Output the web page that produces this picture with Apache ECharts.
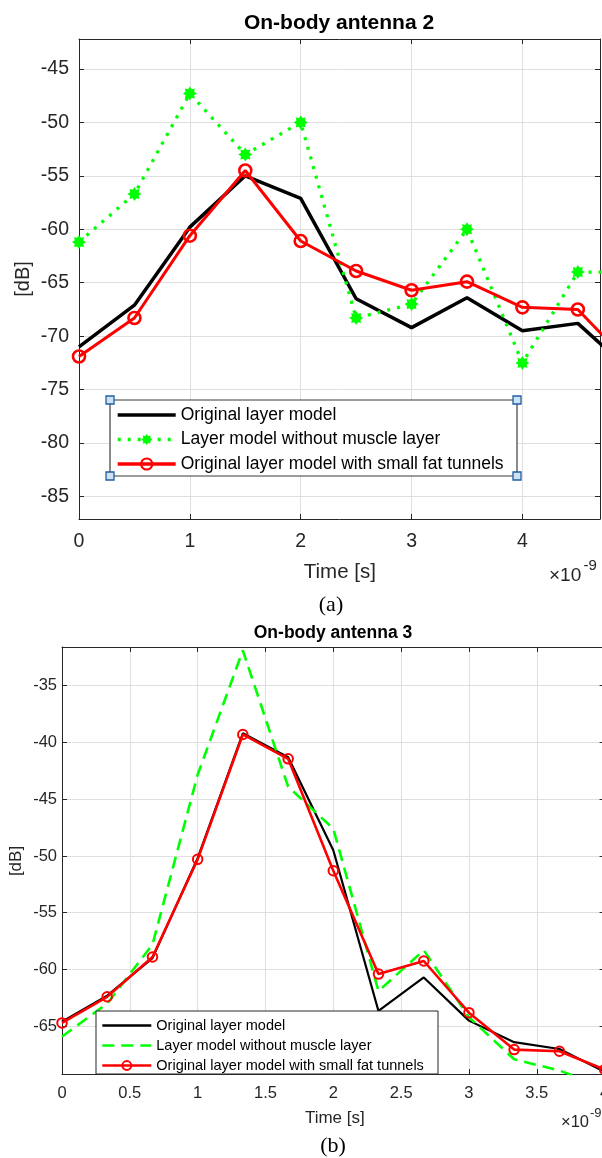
<!DOCTYPE html>
<html>
<head>
<meta charset="utf-8">
<script src="https://cdn.jsdelivr.net/npm/echarts@6/dist/echarts.min.js"></script>
<style>
html,body{margin:0;padding:0;overflow:hidden;background:#fff;}
#c{width:620px;height:1158px;}
</style>
</head>
<body>
<div id="c"></div>
<script>
// ---------- data (time in units of 1e-9 s, values in dB) ----------
const seriesNames = ['Original layer model', 'Layer model without muscle layer', 'Original layer model with small fat tunnels'];

// (a) On-body antenna 2
const timeA      = [0, 0.5, 1, 1.5, 2, 2.5, 3, 3.5, 4, 4.5, 5];
const origA      = [-71.0, -67.1, -59.8, -55.0, -57.1, -66.5, -69.2, -66.4, -69.5, -68.8, -73.5];
const noMuscleA  = [-61.2, -56.7, -47.3, -53.0, -50.0, -68.3, -67.0, -60.0, -72.5, -64.0, -64.0];
const tunnelsA   = [-71.9, -68.3, -60.6, -54.5, -61.1, -63.9, -65.7, -64.9, -67.3, -67.5, -72.9];
const xTicksA    = [0, 1, 2, 3, 4];
const yTicksA    = [-85, -80, -75, -70, -65, -60, -55, -50, -45];
const xRangeA    = [0, 4.7];
const yRangeA    = [-87.1, -42.2];

// (b) On-body antenna 3
const timeB      = [0, 0.333, 0.667, 1, 1.333, 1.667, 2, 2.333, 2.667, 3, 3.333, 3.667, 4];
const origB      = [-64.6, -62.3, -59.0, -50.2, -39.2, -41.3, -49.5, -63.65, -60.7, -64.5, -66.4, -67.0, -69.0];
const noMuscleB  = [-65.9, -63.0, -57.8, -42.85, -31.9, -43.9, -47.6, -61.9, -58.3, -64.2, -67.9, -68.9, -70.3];
const tunnelsB   = [-64.7, -62.4, -58.9, -50.3, -39.3, -41.45, -51.3, -60.4, -59.25, -63.8, -67.05, -67.2, -68.8];
const xTicksB    = [0, 0.5, 1, 1.5, 2, 2.5, 3, 3.5, 4];
const yTicksB    = [-65, -60, -55, -50, -45, -40, -35];
const xRangeB    = [0, 4];
const yRangeB    = [-69.2, -31.6];

// ---------- styling ----------
const FONT = '"Liberation Sans", Arial, Helvetica, sans-serif';
const AX = '#262626';
const GRIDC = '#dfdfdf';
const GREEN = '#00ff00', RED = '#ff0000';

const asterisk = (() => {
  let d = 'path://';
  for (let k = 0; k < 16; k++) {
    const a = k * Math.PI / 8;
    const r = k % 2 === 0 ? 50 : 33;
    d += (k === 0 ? 'M' : 'L') + (50 + r * Math.cos(a)).toFixed(2) + ' ' + (50 + r * Math.sin(a)).toFixed(2) + ' ';
  }
  return d + 'Z';
})();

const zip = (xs, ys) => xs.map((x, i) => [x, ys[i]]);

function xAx(grid, range, ticks, pos, fs, margin) {
  const main = pos === 'bottom';
  return {
    type: 'value', gridIndex: grid, position: pos, min: range[0], max: range[1],
    axisLine: { show: true, onZero: false, lineStyle: { color: AX, width: 1 } },
    axisTick: { show: true, inside: true, length: 5, customValues: ticks, lineStyle: { color: AX, width: 1 } },
    axisLabel: { show: main, customValues: ticks, fontFamily: FONT, fontSize: fs, color: AX, margin: margin },
    splitLine: { show: main, lineStyle: { color: GRIDC, width: 1 } }
  };
}
function yAx(grid, range, ticks, pos, fs, margin) {
  const main = pos === 'left';
  return {
    type: 'value', gridIndex: grid, position: pos, min: range[0], max: range[1],
    axisLine: { show: true, onZero: false, lineStyle: { color: AX, width: 1 } },
    axisTick: { show: true, inside: true, length: 5, customValues: ticks, lineStyle: { color: AX, width: 1 } },
    axisLabel: { show: main, customValues: ticks, fontFamily: FONT, fontSize: fs, color: AX, margin: margin },
    splitLine: { show: main, lineStyle: { color: GRIDC, width: 1 } }
  };
}

function seriesSet(suffix, xi, yi, times, o, g, t, big) {
  return [
    { name: seriesNames[0] + suffix, type: 'line', xAxisIndex: xi, yAxisIndex: yi, z: 2,
      data: zip(times, o), symbol: 'none', showSymbol: false,
      lineStyle: { color: '#000', width: big ? 3.5 : 2.2 }, itemStyle: { color: '#000' } },
    { name: seriesNames[1] + suffix, type: 'line', xAxisIndex: xi, yAxisIndex: yi, z: 3,
      data: zip(times, g),
      symbol: big ? asterisk : 'none', showSymbol: big, symbolSize: 14,
      lineStyle: { color: GREEN, width: big ? 3.3 : 2.6, type: big ? [3, 7] : [12, 7] },
      itemStyle: { color: GREEN } },
    { name: seriesNames[2] + suffix, type: 'line', xAxisIndex: xi, yAxisIndex: yi, z: 4,
      data: zip(times, t),
      symbol: 'circle', symbolSize: big ? 12 : 9.5,
      lineStyle: { color: RED, width: big ? 3 : 2.6 },
      itemStyle: { color: 'rgba(0,0,0,0)', borderColor: RED, borderWidth: big ? 2.6 : 2 } }
  ];
}

const hidden = { opacity: 0 };
function legendData(suffix, big) {
  return [
    { name: seriesNames[0] + suffix, itemStyle: hidden },
    big ? { name: seriesNames[1] + suffix } : { name: seriesNames[1] + suffix, itemStyle: hidden },
    { name: seriesNames[2] + suffix }
  ];
}

const txt = (x, y, text, font, fill, extra) => Object.assign({
  type: 'text', x: x, y: y, z: 10,
  style: { text: text, font: font, fill: fill || '#000', align: 'center', verticalAlign: 'middle' }
}, extra || {});

const handle = (x, y) => ({ type: 'rect', z: 8, shape: { x: x - 4, y: y - 4, width: 8, height: 8 },
  style: { fill: '#cfe2f3', stroke: '#1f5fa0', lineWidth: 1.3 } });

const option = {
  animation: false,
  backgroundColor: '#fff',
  grid: [
    { left: 79, top: 39, width: 521, height: 480 },
    { left: 62, top: 647, width: 542.6, height: 427 }
  ],
  xAxis: [
    xAx(0, xRangeA, xTicksA, 'bottom', 19.5, 13),
    xAx(0, xRangeA, xTicksA, 'top', 19.5, 13),
    xAx(1, xRangeB, xTicksB, 'bottom', 16.5, 11),
    xAx(1, xRangeB, xTicksB, 'top', 16.5, 11)
  ],
  yAxis: [
    yAx(0, yRangeA, yTicksA, 'left', 19.5, 10),
    yAx(0, yRangeA, yTicksA, 'right', 19.5, 10),
    yAx(1, yRangeB, yTicksB, 'left', 16.5, 5),
    yAx(1, yRangeB, yTicksB, 'right', 16.5, 5)
  ],
  legend: [
    { data: legendData('', true), orient: 'vertical', left: 116, top: 406, padding: 0,
      itemWidth: 58, itemHeight: 14, itemGap: 6.5, selectedMode: false, z: 6,
      lineStyle: { width: 3.4 },
      textStyle: { fontFamily: FONT, fontSize: 17.5, color: '#000' } },
    { data: legendData(' (b)', false), orient: 'vertical', left: 101, top: 1018, padding: 0,
      itemWidth: 49, itemHeight: 11, itemGap: 5, selectedMode: false, z: 6,
      formatter: n => n.replace(' (b)', ''),
      lineStyle: { width: 2.6 },
      textStyle: { fontFamily: FONT, fontSize: 14.5, color: '#000' } }
  ],
  graphic: [
    // legend boxes
    { type: 'rect', z: 5, shape: { x: 110, y: 400, width: 407, height: 76 }, style: { fill: '#fff', stroke: '#3a3a3a', lineWidth: 1 } },
    { type: 'line', z: 7, shape: { x1: 110, y1: 400, x2: 110, y2: 476 }, style: { stroke: '#8a8a8a', lineWidth: 2 } },
    { type: 'line', z: 7, shape: { x1: 517, y1: 400, x2: 517, y2: 476 }, style: { stroke: '#8a8a8a', lineWidth: 2 } },
    handle(110, 400), handle(517, 400), handle(110, 476), handle(517, 476),
    { type: 'rect', z: 5, shape: { x: 96, y: 1011, width: 342, height: 63 }, style: { fill: '#fff', stroke: '#262626', lineWidth: 1 } },
    // titles
    txt(339, 23, 'On-body antenna 2', 'bold 21px ' + FONT),
    txt(333, 633, 'On-body antenna 3', 'bold 17.5px ' + FONT),
    // axis names
    txt(339.8, 572, 'Time [s]', '20.5px ' + FONT, AX),
    txt(334.8, 1118, 'Time [s]', '17px ' + FONT, AX),
    txt(23, 279, '[dB]', '20px ' + FONT, AX, { rotation: Math.PI / 2 }),
    txt(16.7, 861, '[dB]', '17px ' + FONT, AX, { rotation: Math.PI / 2 }),
    // exponents
    { type: 'text', x: 549, y: 576, z: 10, style: { text: '×10', font: '19px ' + FONT, fill: AX, align: 'left', verticalAlign: 'middle' } },
    { type: 'text', x: 583.5, y: 566, z: 10, style: { text: '-9', font: '15px ' + FONT, fill: AX, align: 'left', verticalAlign: 'middle' } },
    { type: 'text', x: 561, y: 1122, z: 10, style: { text: '×10', font: '16.5px ' + FONT, fill: AX, align: 'left', verticalAlign: 'middle' } },
    { type: 'text', x: 590, y: 1113, z: 10, style: { text: '-9', font: '13px ' + FONT, fill: AX, align: 'left', verticalAlign: 'middle' } },
    // captions
    txt(331, 605, '(a)', '22px "Liberation Serif", "Times New Roman", serif'),
    txt(333, 1146, '(b)', '22px "Liberation Serif", "Times New Roman", serif')
  ],
  series: [].concat(
    seriesSet('', 0, 0, timeA, origA, noMuscleA, tunnelsA, true),
    seriesSet(' (b)', 2, 2, timeB, origB, noMuscleB, tunnelsB, false)
  )
};

const chart = echarts.init(document.getElementById('c'), null, { renderer: 'canvas' });
chart.setOption(option);
</script>
</body>
</html>
